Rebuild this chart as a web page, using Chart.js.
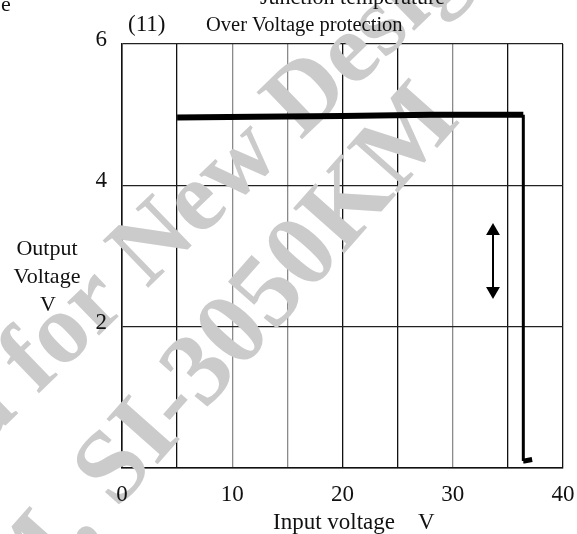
<!DOCTYPE html>
<html><head><meta charset="utf-8">
<script src="https://cdn.jsdelivr.net/npm/chart.js@4/dist/chart.umd.min.js"></script>
<style>html,body{margin:0;padding:0;background:#fff}#c{display:block}</style>
</head><body>
<canvas id="c" width="577" height="534"></canvas>
<script>
// ---- data ----
const xTickLabels = [0, 10, 20, 30, 40];
const yTickLabels = [2, 4, 6];
const strongGridX = [0, 5, 20, 25, 35, 40];
const curveX = [5, 12, 20, 28, 36.4, 36.4, 36.5, 37.2];
const curveY = [4.96, 4.97, 4.98, 5.00, 5.00, 0.10, 0.10, 0.12];
const arrowX = [33.65, 33.65];
const arrowY = [2.505, 3.354];
const titleNo = '(11)';
const titleText = 'Over Voltage protection';
const prevTitle = 'Junction temperature';
const yTitleLines = ['Output', 'Voltage', 'V'];
const xTitle = 'Input voltage    V';
const wmLine1a = 'Not Recommended ', wmLine1b = 'for New Design';
const wmLine2a = 'SI-3010KM, ', wmLine2b = 'SI-3050KM';

const serif = '"Liberation Serif", "DejaVu Serif", serif';

const watermark = {
  id: 'watermark',
  beforeDatasetsDraw(chart) {
    const c = chart.ctx;
    c.save();
    c.fillStyle = '#cbcbcb';
    c.font = 'bold 100px ' + serif;
    c.textBaseline = 'alphabetic';
    c.translate(37, 395); c.rotate(-44 * Math.PI / 180);
    c.textAlign = 'right'; c.fillText(wmLine1a, 0, 0);
    c.textAlign = 'left'; c.fillText(wmLine1b, 0, 0);
    c.restore();
    c.save();
    c.fillStyle = '#cbcbcb';
    c.font = 'bold 104px ' + serif;
    c.translate(117, 510); c.rotate(-48.5 * Math.PI / 180);
    c.textAlign = 'right'; c.fillText(wmLine2a, 0, 0);
    c.textAlign = 'left'; c.fillText(wmLine2b, 0, 0);
    c.restore();
  }
};

const texts = {
  id: 'texts',
  afterDraw(chart) {
    const c = chart.ctx;
    c.save();
    c.fillStyle = '#111';
    c.textBaseline = 'alphabetic';
    c.textAlign = 'left';
    c.font = '22px ' + serif;
    c.fillText(prevTitle, 260, 4);
    c.fillText('e', 1, 11);
    c.font = '23px ' + serif;
    c.fillText(titleNo, 128, 31);
    c.font = '20.5px ' + serif;
    c.fillText(titleText, 206, 31);
    c.font = '23px ' + serif;
    c.fillText(xTitle, 273, 529);
    c.font = '22px ' + serif;
    c.textAlign = 'center';
    c.textBaseline = 'middle';
    c.fillText(yTitleLines[0], 47, 249);
    c.fillText(yTitleLines[1], 47, 277);
    c.fillText(yTitleLines[2], 48, 305);
    c.restore();
  }
};

new Chart(document.getElementById('c'), {
  type: 'scatter',
  data: {
    datasets: [
      {
        data: curveX.map((x, i) => ({x, y: curveY[i]})),
        showLine: true,
        borderColor: '#000',
        backgroundColor: '#000',
        pointRadius: 0,
        borderWidth: 3,
        borderJoinStyle: 'miter',
        segment: {
          borderWidth: ctx => ctx.p0DataIndex < 4 ? 6 : (ctx.p0DataIndex >= 5 ? 5 : 3)
        }
      },
      {
        data: arrowX.map((x, i) => ({x, y: arrowY[i]})),
        showLine: true,
        borderColor: '#000',
        backgroundColor: '#000',
        borderWidth: 2,
        pointStyle: 'triangle',
        pointRadius: 8,
        pointRotation: [180, 0],
        pointBorderWidth: 0
      }
    ]
  },
  options: {
    responsive: false,
    animation: false,
    events: [],
    layout: {padding: {left: 0, right: 14, top: 44, bottom: 0}},
    plugins: {legend: {display: false}, tooltip: {enabled: false}, title: {display: false}},
    scales: {
      x: {
        type: 'linear', min: 0, max: 40,
        afterFit: s => { s.height = 66; s.paddingLeft = 0; s.paddingRight = 0; },
        ticks: {
          stepSize: 5, z: 1, padding: 13,
          color: '#111', font: {family: serif, size: 23},
          callback: v => xTickLabels.includes(v) ? String(v) : ''
        },
        grid: {
          drawTicks: false,
          lineWidth: 1.3,
          color: ctx => strongGridX.includes(ctx.tick.value) ? '#111' : '#8a8a8a'
        },
        border: {display: true, color: '#111', width: 1.5},
        title: {display: false}
      },
      y: {
        type: 'linear', min: 0, max: 6,
        afterFit: s => { s.width = 122; s.paddingTop = 0; s.paddingBottom = 0; },
        ticks: {
          stepSize: 2, z: 1, padding: 15, labelOffset: -4,
          color: '#111', font: {family: serif, size: 23},
          callback: v => yTickLabels.includes(v) ? String(v) : ''
        },
        grid: {drawTicks: false, lineWidth: 1.3, color: '#222'},
        border: {display: true, color: '#111', width: 1.5}
      }
    }
  },
  plugins: [watermark, texts]
});
</script>
</body></html>
